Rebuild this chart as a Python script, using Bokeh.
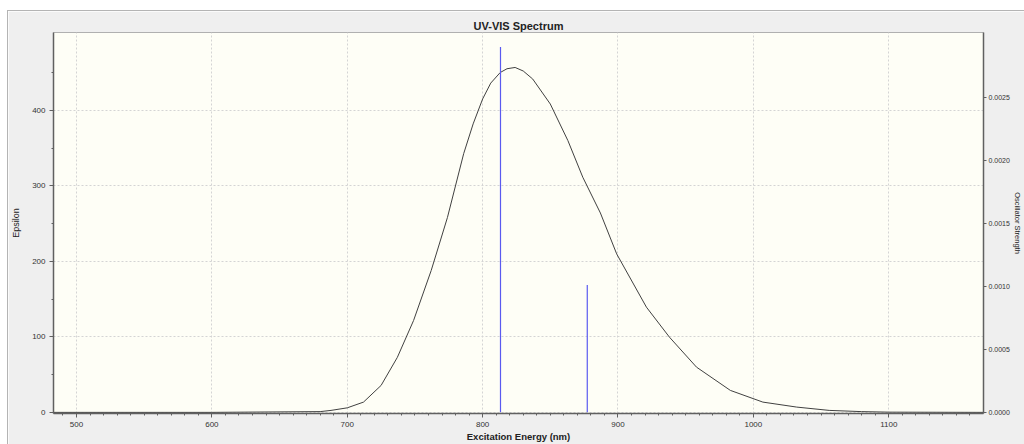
from bokeh.plotting import figure
from bokeh.models import Range1d, LinearAxis, FixedTicker, NumeralTickFormatter, ColumnDataSource
from bokeh.embed import file_html
from bokeh.resources import INLINE

# ---- data ----
wavelength = [483, 600, 680, 688, 700, 712, 725, 737, 749, 762, 774, 786, 793, 800, 806, 813, 818, 824,
              830, 837, 850, 863, 874, 887, 899, 921, 938, 958, 983, 1007, 1032, 1056, 1080, 1100, 1170]
epsilon = [0, 0, 1, 2.6, 6, 13.6, 35.7, 72.8, 121.7, 187.8, 258, 342.6, 382, 415, 436, 450, 455, 456.7,
           452, 441.4, 408.3, 359.8, 311.3, 264, 209.9, 139.3, 99.6, 59.9, 29.1, 13.6, 7.0, 2.6, 1.0, 0.3, 0]
stick_wavelength = [813.2, 877.3]
stick_strength = [0.00290, 0.00101]
x_ticks = [500, 600, 700, 800, 900, 1000, 1100]
eps_ticks = [0, 100, 200, 300, 400]
osc_ticks = [0.0, 0.0005, 0.0010, 0.0015, 0.0020, 0.0025]

FONT = "Liberation Sans"

p = figure(width=1016, height=433, output_backend="svg", toolbar_location=None,
           x_range=Range1d(483, 1170), y_range=Range1d(-1.5, 503),
           title="UV-VIS Spectrum")
p.margin = (11, 0, 0, 8)
p.styles = {"outline": "1px solid #b4b4b4"}
p.min_border_left = 44
p.min_border_right = 38
p.min_border_top = 21
p.min_border_bottom = 31
p.border_fill_color = "#efefef"
p.background_fill_color = "#fefef6"
p.outline_line_color = "#b0b0b0"
p.outline_line_width = 1

p.title.align = "center"
p.title.text_font = FONT
p.title.text_font_size = "11px"
p.title.text_font_style = "bold"
p.title.text_color = "#222222"
p.title.standoff = 2

p.extra_y_ranges = {"osc": Range1d(-0.0000095, 0.003016)}

# grids
for g in (p.xgrid, p.ygrid):
    g.grid_line_color = "#d4d4d4"
    g.grid_line_dash = "2 2"
    g.grid_line_width = 1
p.xgrid.ticker = FixedTicker(ticks=x_ticks)
p.ygrid.ticker = FixedTicker(ticks=eps_ticks)

# bottom axis
xa = p.xaxis[0]
xa.ticker = FixedTicker(ticks=x_ticks, minor_ticks=list(range(490, 1170, 10)))
xa.axis_label = "Excitation Energy (nm)"
xa.axis_label_text_font_size = "9.5px"
xa.axis_label_text_font_style = "bold"
xa.axis_label_standoff = 1

# left axis
ya = p.yaxis[0]
ya.ticker = FixedTicker(ticks=eps_ticks, minor_ticks=[50, 150, 250, 350, 450])
ya.axis_label = "Epsilon"
ya.axis_label_text_font_size = "9px"
ya.axis_label_text_font_style = "normal"
ya.axis_label_standoff = 8

# right axis
ra = LinearAxis(y_range_name="osc")
ra.ticker = FixedTicker(ticks=osc_ticks)
ra.formatter = NumeralTickFormatter(format="0.0000")
ra.axis_label = "Oscillator Strength"
ra.axis_label_text_font_size = "7.5px"
ra.axis_label_text_font_style = "normal"
ra.axis_label_standoff = 0
p.add_layout(ra, "right")

for ax in (xa, ya, ra):
    ax.axis_label_text_font = FONT
    ax.axis_label_text_color = "#222222"
    ax.axis_line_color = "#606060"
    ax.axis_line_width = 1.5
    ax.major_tick_line_color = "#606060"
    ax.minor_tick_line_color = "#606060"
    ax.major_tick_out = 4
    ax.major_tick_in = 0
    ax.minor_tick_out = 2
    ax.minor_tick_in = 0
    ax.major_label_text_font = FONT
    ax.major_label_text_font_size = "8px"
    ax.major_label_text_color = "#333333"
    ax.major_label_standoff = 4
ra.minor_tick_out = 0
ra.major_tick_out = 3
ra.major_label_standoff = 2
ra.major_label_text_font_size = "7px"
xa.major_label_standoff = 4

# spectrum curve
p.line(wavelength, epsilon, line_color="#404040", line_width=1, line_join="round")

# oscillator sticks
src = ColumnDataSource(dict(x=stick_wavelength, top=stick_strength, bottom=[0.0] * len(stick_strength)))
p.segment(x0="x", y0="bottom", x1="x", y1="top", source=src, line_color="#5a5af0",
          line_width=1.2, y_range_name="osc")

open("out.html", "w").write(file_html(p, INLINE))
